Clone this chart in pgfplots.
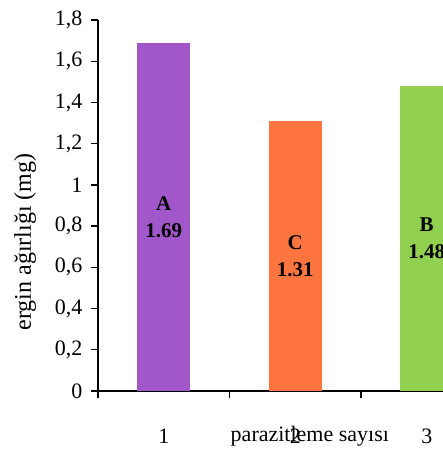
\documentclass[border=0pt]{standalone}
\usepackage{fontspec}
\setmainfont{Liberation Serif}
\usepackage{pgfplots}
\pgfplotsset{compat=1.18}
\definecolor{cpurple}{RGB}{161,87,201}
\definecolor{corange}{RGB}{255,117,64}
\definecolor{cgreen}{RGB}{146,208,80}
\begin{document}
\begin{tikzpicture}
\path[use as bounding box] (0,0) rectangle (443pt,455pt);
\clip (0,0) rectangle (443pt,455pt);
\begin{axis}[
  at={(98pt,64pt)}, anchor=south west,
  scale only axis, width=394.5pt, height=371pt,
  xmin=0.5, xmax=3.5, ymin=0, ymax=1.8,
  axis x line*=bottom, axis y line*=left,
  axis line style={line width=1.4pt, black},
  ytick={0,0.2,...,1.8},
  /pgf/number format/.cd, use comma, fixed, precision=1, assume math mode=true,
  /pgfplots/.cd,
  yticklabel style={font=\fontsize{22}{26}\selectfont, xshift=-5pt},
  xtick={1,2,3}, xticklabels={1,2,3},
  major x tick style={draw=none},
  minor xtick={0.5,1.5,2.5,3.5},
  tick align=outside,
  major tick length=7pt, minor tick length=7pt,
  tick style={line width=1.4pt, black},
  xticklabel style={font=\fontsize{22}{26}\selectfont, anchor=center, yshift=-38pt},
  ylabel={ergin ağırlığı (mg)},
  ylabel style={at={(axis description cs:-0.185,0.402)}, anchor=center, font=\fontsize{24}{28}\selectfont},
  xlabel={parazitleme sayısı},
  xlabel style={at={(axis description cs:0.537,-0.121)}, anchor=center, font=\fontsize{22}{26}\selectfont},
  clip=false,
]
\addplot[ybar, bar width=53pt, fill=cpurple, draw=none] coordinates {(1,1.69)};
\addplot[ybar, bar width=53pt, fill=corange, draw=none] coordinates {(2,1.31)};
\addplot[ybar, bar width=53pt, fill=cgreen, draw=none] coordinates {(3,1.48)};
\node[align=center, font=\fontsize{21}{27}\selectfont\bfseries] at (axis cs:1,0.845) {A\\1.69};
\node[align=center, font=\fontsize{21}{27}\selectfont\bfseries] at (axis cs:2,0.655) {C\\1.31};
\node[align=center, font=\fontsize{21}{27}\selectfont\bfseries] at (axis cs:3,0.74) {B\\1.48};
\end{axis}
\end{tikzpicture}
\end{document}
